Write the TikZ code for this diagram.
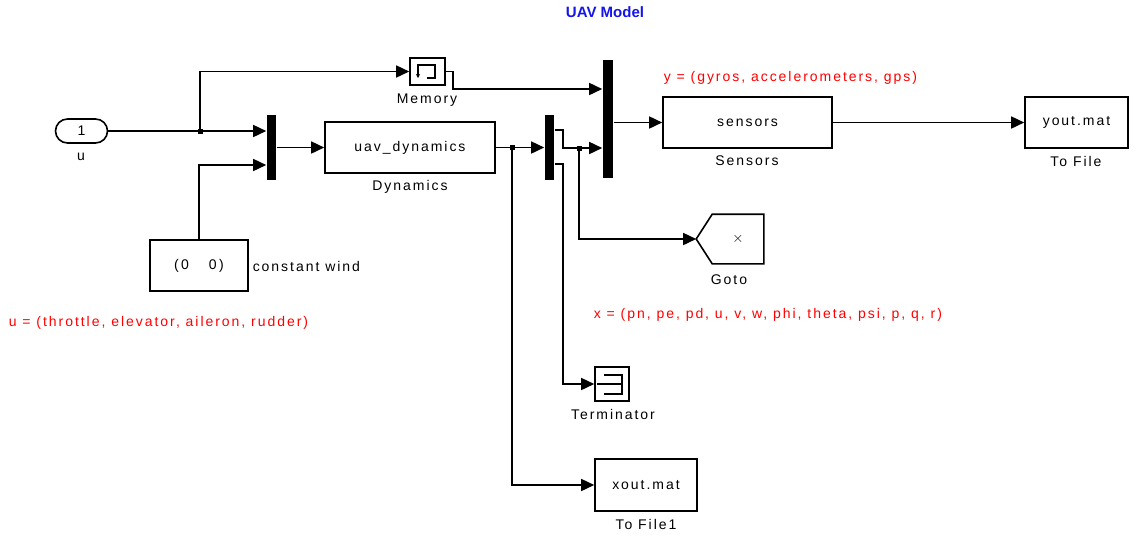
\documentclass[tikz,border=0pt]{standalone}
\usepackage{fontspec}
\setmainfont{Liberation Sans}[LetterSpace=14]
\newfontfamily\titlefont{Liberation Sans}
\usetikzlibrary{arrows.meta,calc}
\definecolor{titleblue}{RGB}{20,20,235}
\begin{document}
\begin{tikzpicture}[x=1pt,y=-1pt,
  line width=1.6pt,
  every node/.style={font=\fontsize{14}{16}\selectfont, inner sep=0pt},
  blk/.style={draw, line width=1.6pt, fill=white},
  bar/.style={fill=black, draw=none},
  sig/.style={line width=1.6pt, -{Triangle[length=13pt,width=12pt]}},
  dot/.style={fill=black, rectangle, minimum size=5pt, inner sep=0pt},
  red/.style={text=red}]
\useasboundingbox (0,0) rectangle (1136,539);

% title
\node[font=\titlefont\fontsize{15}{17}\selectfont\bfseries, text=titleblue] (title) at (605,12) {UAV Model};

% blocks
\node[blk, rounded corners=12pt, minimum width=52pt, minimum height=24pt] (in1) at (81.5,131) {1};
\node (inl) at (81,157) {u};

\node[bar, minimum width=9pt, minimum height=65pt] (mux1) at (271.5,147.5) {};
\node[blk, minimum width=170pt, minimum height=51pt] (dyn) at (410,147.5) {uav\_dynamics};
\node (dynl) at (410,187) {Dynamics};

\node[blk, minimum width=98pt, minimum height=51pt] (cw) at (199,265.5) {(\,0\hspace{20pt}0\,)};
\node[anchor=west] (cwl) at (252,266) {constant wind};

\node[blk, minimum width=35pt, minimum height=27pt] (mem) at (427.5,71.5) {};
\node (meml) at (427,100) {Memory};

\node[bar, minimum width=9pt, minimum height=65pt] (mux2) at (549.5,147.5) {};
\node[bar, minimum width=10pt, minimum height=118pt] (mux3) at (608,118.5) {};

\node[blk, minimum width=169pt, minimum height=51pt] (sens) at (747.5,122.5) {sensors};
\node (sensl) at (747,161) {Sensors};
\node[blk, minimum width=103pt, minimum height=51pt] (yout) at (1076.5,122.5) {yout.mat};
\node (youtl) at (1076,161) {To File};

\node[minimum width=50pt, minimum height=48pt] (goto) at (738,239) {$\times$};
\coordinate (gototip) at ($(goto.west)+(-16,0)$);
\draw[line width=1.6pt] (goto.north west) -- (goto.north east) -- (goto.south east) -- (goto.south west) -- (gototip) -- cycle;
\node (gotol) at (729,280) {Goto};

\node[blk, minimum width=34pt, minimum height=34pt] (term) at (612,384) {};
\node (terml) at (613,414) {Terminator};

\node[blk, minimum width=102pt, minimum height=52pt] (xout) at (646,485) {xout.mat};
\node (xoutl) at (646,524) {To File1};

% icons
\draw[line width=1.3pt, -{Stealth[length=4pt,width=4pt]}]
  ($(mem.center)+(-0.5,6.5)$) -- ++(8,0) -- ++(0,-13) -- ++(-17,0) -- ++(0,13);
\draw[line width=1.3pt] ($(term.center)+(-15,0)$) -- ++(25,0);
\draw[line width=1.3pt] ($(term.center)+(-8,-9)$) -- ++(18,0) -- ++(0,19) -- ++(-18,0);

% labels in red
\node[red, anchor=west] (ylab) at (663,78) {y = (gyros, accelerometers, gps)};
\node[red, anchor=west] (xlab) at (593,315) {x = (pn, pe, pd, u, v, w, phi, theta, psi, p, q, r)};
\node[red, anchor=west] (ulab) at (8,323) {u = (throttle, elevator, aileron, rudder)};

% junctions
\coordinate (j1) at (200,131);
\coordinate (j2) at (512,147.5);
\coordinate (j3) at (579,148);

% connectors
\draw[sig] (in1.east) -- (in1.east -| mux1.west);
\draw[sig] (j1) |- (mem.west);
\draw[sig] (cw.north) |- ($(mux1.west)+(0,17.5)$);
\draw[sig] (mux1.east |- dyn.west) -- (dyn.west);
\draw[sig] (dyn.east) -- (dyn.east -| mux2.west);
\draw[sig] (j2) |- (xout.west);
\draw[sig] (mem.east) -- ++(7,0) |- ($(mux3.west)+(0,-29.5)$);
\draw[sig] ($(mux2.east)+(0,-17.5)$) -- ++(8,0) |- ($(mux3.west)+(0,29.5)$);
\draw[sig] (j3) |- (gototip);
\draw[sig] ($(mux2.east)+(0,16.5)$) -- ++(8,0) |- (term.west);
\draw[sig] (mux3.east |- sens.west) -- (sens.west);
\draw[sig] (sens.east) -- (yout.west);

\node[dot] at (j1) {};
\node[dot] at (j2) {};
\node[dot] at (j3) {};
\end{tikzpicture}
\end{document}
